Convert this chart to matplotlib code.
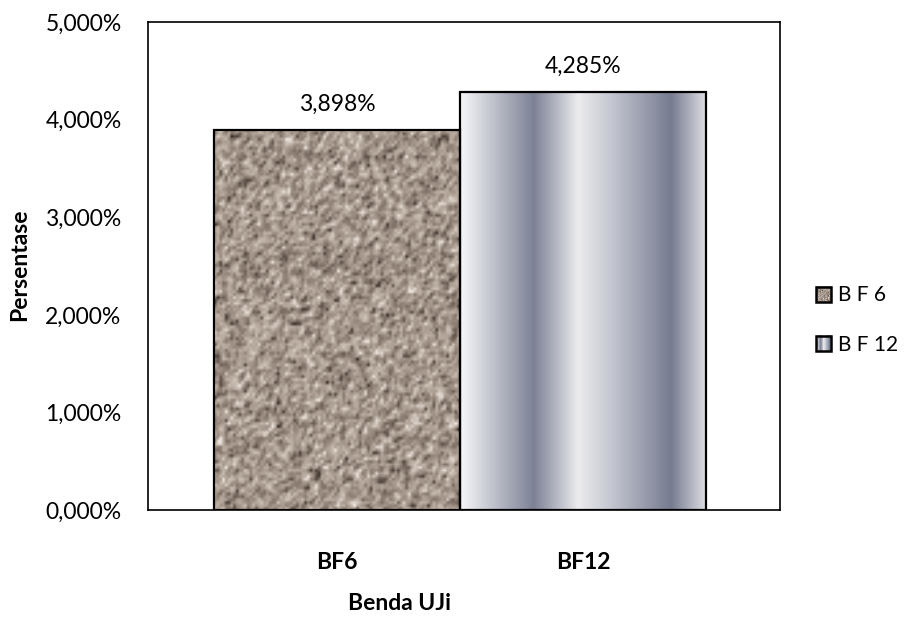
import numpy as np
import matplotlib
matplotlib.use("Agg")
import matplotlib.pyplot as plt
from matplotlib.colors import LinearSegmentedColormap
from matplotlib.patches import Rectangle
from matplotlib.legend_handler import HandlerBase
from matplotlib.image import BboxImage
from matplotlib.transforms import Bbox, TransformedBbox

categories = ['BF6', 'BF12']
series_names = ['B F 6', 'B F 12']
values = [3.898, 4.285]
value_labels = ['3,898%', '4,285%']
y_ticks = [0, 1, 2, 3, 4, 5]
y_tick_labels = ['0,000%', '1,000%', '2,000%', '3,000%', '4,000%', '5,000%']

plt.rcParams['font.family'] = ['Lato', 'DejaVu Sans']
FS = 16.5

# fill textures (styling only)
rng = np.random.default_rng(7)
noise = rng.random((130, 90))
noise = (noise + np.roll(noise, 1, 0) + np.roll(noise, 1, 1)) / 3
granite_cmap = LinearSegmentedColormap.from_list(
    'granite', ['#2e2520', '#7d6f65', '#a39589', '#c2b5aa', '#f4eee8'])
granite = noise

metal_cmap = LinearSegmentedColormap.from_list('metal', [
    (0.00, '#f7f7f8'), (0.30, '#7c8195'), (0.48, '#ececee'),
    (0.62, '#c3c6d0'), (0.86, '#767b90'), (1.00, '#dcdde2')])
metal = np.linspace(0, 1, 256)[None, :]

textures = [(granite, granite_cmap), (metal, metal_cmap)]


class ImageHandler(HandlerBase):
    def __init__(self, img, cmap):
        super().__init__()
        self.img = img
        self.cmap = cmap

    def create_artists(self, legend, orig_handle, xdescent, ydescent,
                       width, height, fontsize, trans):
        sq = height * 1.0
        bb = Bbox.from_bounds(-xdescent, -ydescent, sq, sq)
        im = BboxImage(TransformedBbox(bb, trans), cmap=self.cmap,
                       interpolation='bilinear')
        im.set_data(self.img)
        rect = Rectangle((-xdescent, -ydescent), sq, sq, fill=False,
                         edgecolor='black', linewidth=1.8, transform=trans)
        return [im, rect]


fig = plt.figure(figsize=(9.08, 6.36), dpi=100)
ax = fig.add_axes([0.163, 0.198, 0.696, 0.767])

x = np.arange(len(categories))
bars = ax.bar(x, values, width=1.0, facecolor='none', edgecolor='black',
              linewidth=1.6, zorder=3)

for bar, (img, cmap), lab in zip(bars, textures, value_labels):
    x0, w, h = bar.get_x(), bar.get_width(), bar.get_height()
    im = ax.imshow(img, cmap=cmap, extent=[x0, x0 + w, 0, h], aspect='auto',
                   interpolation='bilinear', zorder=2)
    im.set_clip_path(bar)
    ax.annotate(lab, (x0 + w / 2, h), xytext=(0, 11), textcoords='offset points',
                ha='center', va='bottom', fontsize=FS)

ax.set_xlim(-0.77, 1.80)
ax.set_ylim(0, 5)
ax.set_yticks(y_ticks)
ax.set_yticklabels(y_tick_labels, fontsize=FS)
ax.set_xticks(x)
ax.set_xticklabels(categories, fontsize=FS, fontweight='bold')
ax.tick_params(axis='x', length=0, pad=30)
ax.tick_params(axis='y', length=0, pad=19)
for s in ax.spines.values():
    s.set_linewidth(1.2)
    s.set_color('black')

fig.text(20 / 908, 1 - 265 / 636, 'Persentase', rotation=90, ha='center',
         va='center', fontsize=FS, fontweight='bold')
fig.text(400 / 908, 1 - 604 / 636, 'Benda UJi', ha='center', va='center',
         fontsize=FS, fontweight='bold')

handles = [Rectangle((0, 0), 1, 1), Rectangle((0, 0), 1, 1)]
fig.legend(handles, series_names, loc='center left',
           bbox_to_anchor=(816 / 908, 1 - 320 / 636), frameon=False,
           borderpad=0, borderaxespad=0,
           fontsize=15, handlelength=0.75, handleheight=0.75,
           handletextpad=0.3, labelspacing=1.4,
           handler_map={handles[0]: ImageHandler(granite, granite_cmap),
                        handles[1]: ImageHandler(metal, metal_cmap)})

fig.savefig('out.png', dpi=100)
